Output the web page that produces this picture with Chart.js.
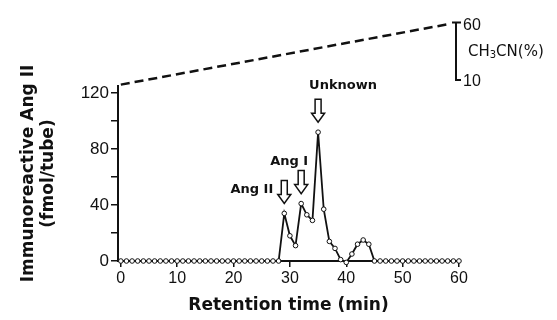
<!DOCTYPE html>
<html>
<head>
<meta charset="utf-8">
<script src="https://cdn.jsdelivr.net/npm/chart.js@4"></script>
<style>
  body { margin: 0; background: #fff; }
</style>
</head>
<body>
<canvas id="myChart" width="557" height="320"></canvas>
<script>
// retention time (min) of each fraction and immunoreactive Ang II (fmol/tube)
const times = [];
for (let t = 0; t <= 60; t++) times.push(t);
const angII = [
  0, 0, 0, 0, 0, 0, 0, 0, 0, 0,
  0, 0, 0, 0, 0, 0, 0, 0, 0, 0,
  0, 0, 0, 0, 0, 0, 0, 0, 0, 34,
  18, 11, 41, 33, 29, 92, 37, 14, 9, 1,
  -1, 5, 12, 15, 12, 0, 0, 0, 0, 0,
  0, 0, 0, 0, 0, 0, 0, 0, 0, 0,
  0,
];

// acetonitrile gradient (dashed line)
const gradTime = [0, 58];
const gradPct = [6, 58.5];

const xTicks = [0, 10, 20, 30, 40, 50, 60];
const yTicks = [0, 20, 40, 60, 80, 100, 120];
const y2Ticks = [10, 60];

const peakLabels = ["Ang II", "Ang I", "Unknown"];
const peakTimes = [29, 32, 35];

const ink = "#111";

function drawArrow(ctx, cx, tip, len) {
  const shaft = 3, head = 6.5, headH = 9;
  ctx.beginPath();
  ctx.moveTo(cx - shaft, tip - len);
  ctx.lineTo(cx + shaft, tip - len);
  ctx.lineTo(cx + shaft, tip - headH);
  ctx.lineTo(cx + head, tip - headH);
  ctx.lineTo(cx, tip);
  ctx.lineTo(cx - head, tip - headH);
  ctx.lineTo(cx - shaft, tip - headH);
  ctx.closePath();
  ctx.fillStyle = "#fff";
  ctx.fill();
  ctx.lineWidth = 1.5;
  ctx.strokeStyle = ink;
  ctx.stroke();
}

const extras = {
  id: "extras",
  afterDatasetsDraw(chart) {
    const { ctx, chartArea, scales } = chart;
    ctx.save();

    // peak arrows + labels
    ctx.font = "bold 13px 'DejaVu Sans'";
    ctx.textBaseline = "middle";
    peakLabels.forEach((label, i) => {
      const t = peakTimes[i];
      const px = scales.x.getPixelForValue(t);
      const py = scales.y.getPixelForValue(angII[times.indexOf(t)]);
      const tip = py - 10;
      const top = tip - 23;
      drawArrow(ctx, px, tip, 23);
      ctx.fillStyle = ink;
      if (i === 0) {
        ctx.textAlign = "right";
        ctx.fillText(label, px - 11, top + 9);
      } else if (i === 1) {
        ctx.textAlign = "right";
        ctx.fillText(label, px + 7, top - 9);
      } else {
        ctx.textAlign = "left";
        ctx.fillText(label, px - 9, top - 14);
      }
    });

    // CH3CN axis bracket on the right
    const bx = chartArea.right - 3;
    const yTop = scales.y2.getPixelForValue(y2Ticks[1]);
    const yBot = scales.y2.getPixelForValue(y2Ticks[0]);
    ctx.strokeStyle = ink;
    ctx.lineWidth = 2;
    ctx.beginPath();
    ctx.moveTo(bx - 4, yTop);
    ctx.lineTo(bx + 5, yTop);
    ctx.moveTo(bx, yTop);
    ctx.lineTo(bx, yBot);
    ctx.moveTo(bx - 1, yBot);
    ctx.lineTo(bx + 5, yBot);
    ctx.stroke();

    ctx.fillStyle = ink;
    ctx.textAlign = "left";
    ctx.font = "16px 'Liberation Sans'";
    ctx.fillText(String(y2Ticks[1]), bx + 7, yTop + 3);
    ctx.fillText(String(y2Ticks[0]), bx + 7, yBot + 2);

    let tx = bx + 12;
    const ty = (yTop + yBot) / 2 + 1;
    ctx.font = "15px 'DejaVu Sans'";
    ctx.fillText("CH", tx, ty);
    tx += ctx.measureText("CH").width;
    ctx.font = "10px 'DejaVu Sans'";
    ctx.fillText("3", tx, ty + 3);
    tx += ctx.measureText("3").width;
    ctx.font = "15px 'DejaVu Sans'";
    ctx.fillText("CN(%)", tx, ty);

    ctx.restore();
  },
};

const ctx = document.getElementById("myChart");
new Chart(ctx, {
  type: "line",
  data: {
    datasets: [
      {
        label: "Immunoreactive Ang II",
        data: times.map((t, i) => ({ x: t, y: angII[i] })),
        borderColor: ink,
        borderWidth: 1.8,
        pointRadius: 2.3,
        pointBorderWidth: 1,
        pointBorderColor: ink,
        pointBackgroundColor: "#fff",
        tension: 0,
        clip: false,
        yAxisID: "y",
      },
      {
        label: "CH3CN",
        data: gradTime.map((t, i) => ({ x: t, y: gradPct[i] })),
        borderColor: ink,
        borderWidth: 2.5,
        borderDash: [9, 5],
        pointRadius: 0,
        clip: false,
        yAxisID: "y2",
      },
    ],
  },
  options: {
    responsive: false,
    animation: false,
    layout: {
      padding: { left: 0, right: 98, top: 86, bottom: 0 },
    },
    plugins: {
      legend: { display: false },
      tooltip: { enabled: false },
    },
    scales: {
      x: {
        type: "linear",
        min: -0.5,
        max: 60,
        afterBuildTicks: (scale) => {
          scale.ticks = xTicks.map((v) => ({ value: v }));
        },
        afterFit: (scale) => {
          scale.height = 59;
        },
        grid: { drawOnChartArea: false, tickLength: 6, color: ink, lineWidth: 1.5 },
        border: { color: ink, width: 2 },
        ticks: {
          color: ink,
          font: { family: "'Liberation Sans'", size: 16 },
          padding: 2,
          maxRotation: 0,
          autoSkip: false,
        },
        title: {
          display: true,
          text: "Retention time (min)",
          color: ink,
          font: { family: "'DejaVu Sans'", size: 17, weight: "bold" },
          padding: { top: 0, bottom: 4 },
        },
      },
      y: {
        min: 0,
        max: 125,
        afterBuildTicks: (scale) => {
          scale.ticks = yTicks.map((v) => ({ value: v }));
        },
        afterFit: (scale) => {
          scale.width = 118;
        },
        grid: { drawOnChartArea: false, tickLength: 7, color: ink, lineWidth: 1.5 },
        border: { color: ink, width: 2 },
        ticks: {
          color: ink,
          font: { family: "'Liberation Sans'", size: 17 },
          padding: 2,
          autoSkip: false,
          callback: (v) => (v % 40 === 0 ? v : ""),
        },
        title: {
          display: true,
          text: ["Immunoreactive Ang II", "(fmol/tube)"],
          color: ink,
          font: { family: "'DejaVu Sans'", size: 17, weight: "bold", lineHeight: 1.15 },
          padding: { top: 19, bottom: 0 },
        },
      },
      // gradient axis sits above the plot, so its range is offset
      y2: {
        display: false,
        position: "right",
        min: -147.4,
        max: 4.8,
      },
    },
  },
  plugins: [extras],
});
</script>
</body>
</html>
